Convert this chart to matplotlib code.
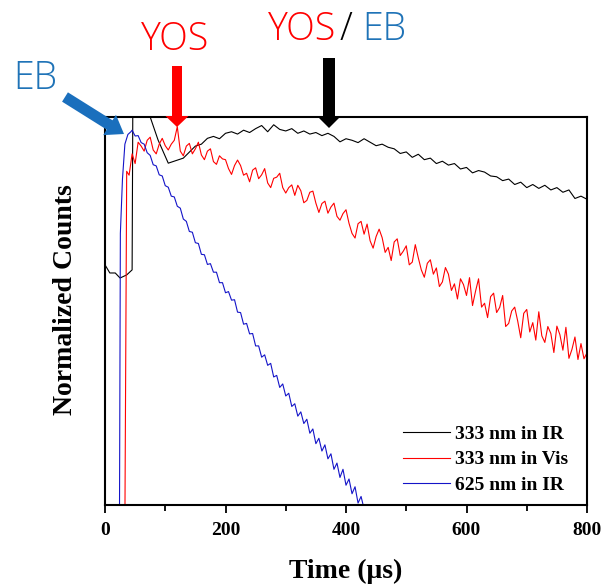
import numpy as np
import matplotlib
matplotlib.use("Agg")
import matplotlib.pyplot as plt

# ---------------- data ----------------
# 333 nm excitation, IR emission (black)
ir333_t = [0, 8, 17, 25, 36, 45, 46.5, 56, 66, 75, 88, 105, 130, 150,
           160, 170, 180, 190, 200, 210, 220, 230, 240, 250, 260, 270, 280, 290,
           300, 310, 320, 330, 340, 350, 360, 370, 380, 390, 400, 410, 420, 430,
           440, 450, 460, 470, 480, 490, 500, 510, 520, 530, 540, 550, 560, 570,
           580, 590, 600, 610, 620, 630, 640, 650, 660, 670, 680, 690, 700, 710,
           720, 730, 740, 750, 760, 770, 780, 790, 800]
ir333_y = [0.619, 0.598, 0.598, 0.585, 0.593, 0.606, 1.15, 1.18, 1.08, 1.00, 0.941, 0.881, 0.894, 0.925,
           0.930, 0.945, 0.950, 0.944, 0.958, 0.962, 0.956, 0.966, 0.960, 0.970, 0.978, 0.962, 0.980, 0.968,
           0.964, 0.970, 0.958, 0.964, 0.956, 0.960, 0.952, 0.958, 0.950, 0.936, 0.944, 0.940, 0.934, 0.944,
           0.935, 0.926, 0.930, 0.922, 0.918, 0.906, 0.910, 0.896, 0.904, 0.890, 0.894, 0.880, 0.886, 0.876,
           0.880, 0.866, 0.870, 0.856, 0.862, 0.858, 0.848, 0.846, 0.836, 0.840, 0.826, 0.832, 0.818, 0.826,
           0.816, 0.824, 0.812, 0.818, 0.806, 0.812, 0.790, 0.796, 0.788]

# 333 nm excitation, visible emission (red)
vis333_t = [33, 36] + list(np.arange(40, 801, 5))
vis333_y = [-0.05, 0.86,
            0.850, 0.905, 0.880, 0.935, 0.925, 0.912, 0.940, 0.948, 0.915, 0.905, 0.930, 0.945,
            0.926, 0.915, 0.930, 0.940, 0.975, 0.912, 0.900, 0.925, 0.932, 0.905, 0.918, 0.935,
            0.902, 0.890, 0.912, 0.918, 0.885, 0.878, 0.900, 0.892,
            0.890, 0.867, 0.852, 0.875, 0.889, 0.875, 0.850, 0.855, 0.833, 0.863, 0.869, 0.841,
            0.851, 0.867, 0.830, 0.818, 0.842, 0.845, 0.855, 0.818, 0.804, 0.818, 0.825, 0.798,
            0.824, 0.810, 0.779, 0.785, 0.806, 0.809, 0.778, 0.754, 0.777, 0.783, 0.752, 0.768,
            0.778, 0.744, 0.734, 0.751, 0.761,
            0.726, 0.700, 0.688, 0.725, 0.731, 0.698, 0.724, 0.681, 0.662, 0.692, 0.711, 0.689,
            0.651, 0.664, 0.630, 0.678, 0.686, 0.643, 0.654, 0.668, 0.619, 0.626, 0.671, 0.637,
            0.606, 0.587, 0.623, 0.632, 0.595, 0.611, 0.563, 0.575, 0.612, 0.595, 0.553, 0.570,
            0.531, 0.583, 0.568, 0.540,
            0.586, 0.514, 0.551, 0.583, 0.510, 0.520, 0.483, 0.537, 0.546, 0.496, 0.509, 0.540,
            0.460, 0.468, 0.500, 0.510, 0.474, 0.431, 0.494, 0.504, 0.446, 0.470, 0.425, 0.498,
            0.436, 0.419, 0.460, 0.442, 0.393, 0.461, 0.439, 0.399, 0.458, 0.378, 0.401, 0.433,
            0.375, 0.416, 0.377, 0.392]

# 625 nm excitation, IR emission (blue)
ir625_t = [24, 25.5, 29, 33, 38, 43] + list(np.arange(45, 436, 5))
ir625_y = [-0.05, 0.70, 0.84, 0.93, 0.955, 0.962,
           0.966, 0.951, 0.952, 0.934, 0.930, 0.908, 0.901, 0.877, 0.874, 0.851, 0.848, 0.823,
           0.819, 0.796, 0.794, 0.770, 0.765, 0.737, 0.731, 0.705, 0.703, 0.676, 0.674, 0.646,
           0.645, 0.620, 0.622, 0.600, 0.600, 0.573, 0.573, 0.547, 0.550, 0.528, 0.529, 0.497,
           0.496, 0.466, 0.468, 0.441, 0.442, 0.410, 0.410, 0.381, 0.387, 0.360, 0.365, 0.330,
           0.334, 0.303, 0.312, 0.281, 0.288, 0.254, 0.261, 0.229, 0.240, 0.210, 0.221, 0.185,
           0.196, 0.158, 0.172, 0.139, 0.155, 0.119, 0.132, 0.092, 0.108, 0.071, 0.092, 0.051,
           0.067, 0.029, 0.047, 0.005, 0.022, -0.010, -0.020]

series_labels = ["333 nm in IR", "333 nm in Vis", "625 nm in IR"]
xticks = [0, 200, 400, 600, 800]

# ---------------- figure ----------------
W, H = 604, 584
fig = plt.figure(figsize=(W / 100, H / 100), dpi=100)
ax = fig.add_axes([105 / W, 1 - 505 / H, (587 - 105) / W, (505 - 117) / H])

serif = "Liberation Serif"
ax.plot(ir333_t, ir333_y, color="black", lw=0.8, label=series_labels[0])
ax.plot(vis333_t, vis333_y, color="#ff0000", lw=0.8, label=series_labels[1])
ax.plot(ir625_t, ir625_y, color="#1414c8", lw=0.8, label=series_labels[2])

ax.set_xlim(0, 800)
ax.set_ylim(0, 1)
ax.set_xticks(xticks)
ax.set_xticks([100, 300, 500, 700], minor=True)
ax.set_yticks([])
ax.tick_params(axis="x", which="major", direction="out", length=6, width=1.3, pad=6,
               labelsize=14)
ax.tick_params(axis="x", which="minor", direction="out", length=4, width=1.3)
for lab in ax.get_xticklabels():
    lab.set_fontfamily(serif)
    lab.set_fontweight("bold")
for sp in ax.spines.values():
    sp.set_linewidth(1.5)

ax.set_xlabel("Time (\u03bcs)", fontfamily=serif, fontweight="bold", fontsize=20)
ax.set_ylabel("Normalized Counts", fontfamily=serif, fontweight="bold", fontsize=20)
ax.xaxis.set_label_coords(0.5, -0.138)
ax.yaxis.set_label_coords(-0.055, 0.53)

leg = ax.legend(loc="lower right", bbox_to_anchor=(0.978, 0.008), frameon=False,
                prop=dict(family=serif, weight="bold", size=14),
                handlelength=2.4, handletextpad=0.3, labelspacing=0.42, borderaxespad=0)

# ---------------- annotations ----------------
sans = "Open Sans"
tw = "light"
fs = 27
blue_txt = "#1f73b7"
fig.text(35 / W, 1 - 79 / H, "EB", color=blue_txt, fontsize=fs, fontfamily=sans,
         fontweight=tw, ha="center", va="center")
fig.text(175 / W, 1 - 40 / H, "YOS", color="#ff0000", fontsize=fs, fontfamily=sans,
         fontweight=tw, ha="center", va="center")
fig.text(268 / W, 1 - 30 / H, "YOS", color="#ff0000", fontsize=fs, fontfamily=sans,
         fontweight=tw, ha="left", va="center")
fig.text(346 / W, 1 - 30 / H, "/", color="black", fontsize=fs, fontfamily=sans,
         fontweight=tw, ha="center", va="center")
fig.text(362 / W, 1 - 30 / H, "EB", color=blue_txt, fontsize=fs, fontfamily=sans,
         fontweight=tw, ha="left", va="center")

def block_arrow(tail, tip, color, tail_w, head_w, head_l):
    ms = 20.0
    px_per = ms * 100 / 72.0
    style = "simple,tail_width=%.3f,head_width=%.3f,head_length=%.3f" % (
        tail_w / px_per, head_w / px_per, head_l / px_per)
    fig.add_artist(matplotlib.patches.FancyArrowPatch(
        (tail[0], H - tail[1]), (tip[0], H - tip[1]), transform=None,
        arrowstyle=style, mutation_scale=ms, color=color, lw=0,
        shrinkA=0, shrinkB=0))

block_arrow((65, 97), (124, 134), "#1a6fbd", 11, 24, 17)
block_arrow((177, 66), (177, 127), "#ff0000", 10, 23, 11)
block_arrow((329, 58), (329, 128), "black", 12, 22, 11)

fig.savefig("out.png", dpi=100)
